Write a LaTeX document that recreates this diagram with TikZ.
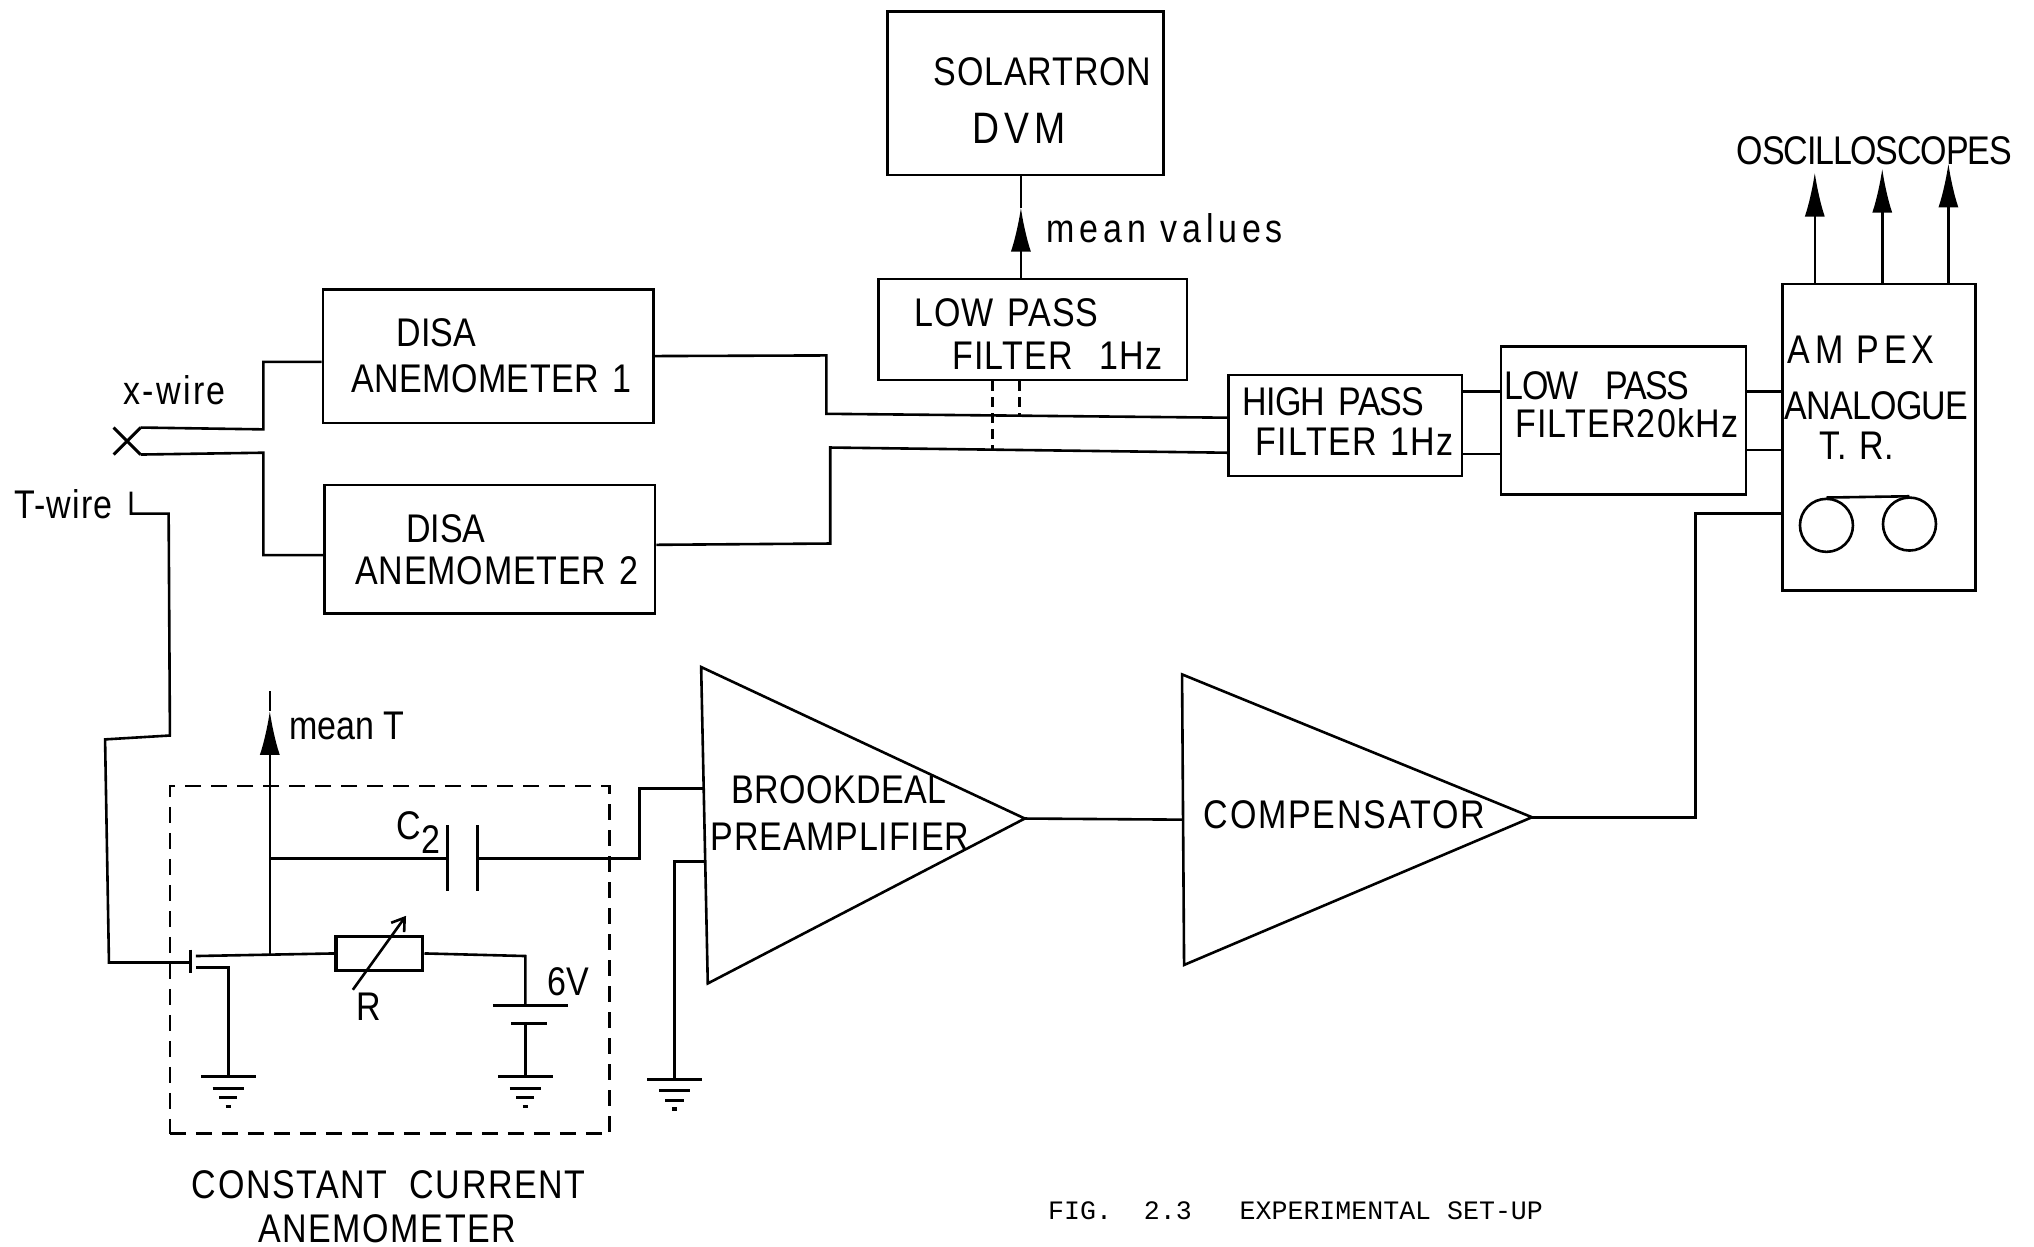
\documentclass[tikz,border=0pt]{standalone}
\usepackage{fontspec}
\setmainfont[FakeStretch=0.85]{Liberation Sans}
\newfontfamily\typedfont{Liberation Mono}
\usetikzlibrary{arrows.meta,shapes.geometric,shapes.misc}
\newdimen\unitpx
\unitpx=0.6486pt
\newcommand{\spaced}[2]{{\addfontfeatures{LetterSpace=#1}#2}}
\newcommand{\toppad}[1]{\rule{0pt}{#1}}
\newcommand{\botpad}[1]{\rule[-#1]{0pt}{0pt}}
\tikzset{
    lettering/.style={font=\fontsize{20}{23}\selectfont,inner sep=0pt},
    blockbox/.style 2 args={draw,lettering,line width=1.3pt,minimum width=#1\unitpx,minimum height=#2\unitpx,text width=#1\unitpx,align=left},
    amptriangle/.style 2 args={draw,line width=1.3pt,isosceles triangle,isosceles triangle stretches,inner sep=0pt,outer sep=0pt,minimum width=#1\unitpx,minimum height=#2\unitpx,anchor=apex},
    textnode/.style={lettering,anchor=west},
    wire/.style={line width=1.3pt},
    sigarrow/.style={line width=1.3pt,-{Latex[length=22pt,width=10pt]}},
    dashedlink/.style={line width=1.3pt,dash pattern=on 5pt off 3pt},
    reel/.style={circle,draw,line width=1.3pt,minimum size=26.5pt,inner sep=0pt},
    earth/.pic={
        \draw[line width=1.5pt] (-21,0) -- (21,0);
        \draw[line width=1.5pt] (-12,9) -- (12,9);
        \draw[line width=1.5pt] (-7,16) -- (7,16);
        \draw[line width=1.8pt] (-2,23) -- (2,23);
    }
}
\begin{document}
\begin{tikzpicture}[x=0.6486pt,y=-0.6486pt,line width=1.3pt]
\useasboundingbox (0,0) rectangle (1568,961.3);

% blocks
\node[blockbox={213}{126}] (dvm) at (790.5,72) {\toppad{21pt}\hspace*{36\unitpx}\spaced{2}{SOLARTRON}\\[6pt]\hspace*{66\unitpx}{\addfontfeatures{LetterSpace=11}\fontsize{22}{24}\selectfont DVM}};
\node[blockbox={238}{78}] (lowone) at (796,254) {\toppad{18.5pt}\hspace*{28\unitpx}\spaced{2.5}{LOW PASS}\\[-1.7pt]\hspace*{57\unitpx}\spaced{3}{FILTER\ \ 1Hz}};
\node[blockbox={255}{103}] (disaone) at (376.5,274.5) {\hspace*{57\unitpx}DISA\\\hspace*{22\unitpx}\spaced{1}{ANEMOMETER 1}};
\node[blockbox={255}{99}] (disatwo) at (377.5,423.5) {\hspace*{63\unitpx}DISA\\[-2pt]\hspace*{24\unitpx}\spaced{2}{ANEMOMETER 2}};
\node[blockbox={180}{78}] (highpass) at (1037,328) {\hspace*{11\unitpx}\spaced{-2}{HIGH PASS}\\[-3pt]\hspace*{21\unitpx}\spaced{3.5}{FILTER 1Hz}\botpad{4pt}};
\node[blockbox={189}{114}] (lowtwo) at (1251.5,324) {\hspace*{3\unitpx}\spaced{-4}{LOW \ PASS}\\[-4pt]\hspace*{11\unitpx}\spaced{3}{FILTER20kHz}\botpad{15.6pt}};
\node[blockbox={149}{236}] (ampex) at (1448.5,337) {\hspace*{4\unitpx}\spaced{12}{AM PEX}\\[5pt]\hspace*{2\unitpx}\spaced{-2}{ANALOGUE}\\[-3pt]\hspace*{29\unitpx}T. R.\botpad{39pt}};
\node[reel] (reelone) at (1408,405) {};
\node[reel] (reeltwo) at (1472,404) {};

\node[amptriangle={244}{247},rotate=1.2] (brookdeal) at (790,631) {};
\node[amptriangle={224}{269},rotate=0.4] (compensator) at (1181,630) {};
\node[draw,dash pattern=on 8pt off 5pt,minimum width=339\unitpx,minimum height=268\unitpx,inner sep=0pt] (currentbox) at (300.5,740) {};
\node[draw,line width=1.6pt,minimum width=67\unitpx,minimum height=26\unitpx,inner sep=0pt] (rheostat) at (292.5,735) {};
\node[cross out,draw,line width=1.5pt,minimum size=12pt,inner sep=0pt] (xcross) at (98,340) {};

% text
\node[textnode] (meanvalues) at (806,176) {\spaced{12}{mean values}};
\node[textnode] (oscilloscopes) at (1338,116) {\spaced{-3}{OSCILLOSCOPES}};
\node[textnode] (xwire) at (94,301) {\spaced{6}{x-wire}};
\node[textnode] (twire) at (10,389) {\spaced{3}{T-wire}};
\node[textnode] (meant) at (222,560) {mean T};
\node[textnode] (brooktext) at (563,609) {\spaced{1}{BROOKDEAL}};
\node[textnode] (preamptext) at (547,645) {\spaced{2}{PREAMPLIFIER}};
\node[textnode] (comptext) at (927,628) {\spaced{4.5}{COMPENSATOR}};
\node[textnode] (ctwo) at (305,642) {C\raisebox{-7pt}{2}};
\node[textnode] (rlabel) at (274,776) {R};
\node[textnode] (sixvolt) at (421,757) {6V};
\node[textnode] (constant) at (147,913) {\spaced{4}{CONSTANT \ CURRENT}};
\node[textnode] (anemolabel) at (198,947) {\spaced{4}{ANEMOMETER}};
\node[anchor=west,inner sep=0pt,font=\typedfont\fontsize{13.3}{15}\selectfont] (figcaption) at (807,933) {FIG.\ \ 2.3\ \ \ EXPERIMENTAL SET-UP};

% wiring
\coordinate (twirehead) at (101,379);
\coordinate (fetgate) at (147,742);
\coordinate (fetdrain) at (151,737);
\coordinate (fetsource) at (151,746);
\coordinate (dvmtip) at (787,160);
\coordinate (meantip) at (208,548);
\coordinate (platea) at (345,662);
\coordinate (plateb) at (368,662);
\coordinate (cellplus) at (405,775);
\coordinate (cellminus) at (405,789);
\coordinate (earthone) at (176,830);
\coordinate (earthtwo) at (405,830);
\coordinate (earththree) at (520,832);

\draw[wire] (xcross.north east) -- (203,331) -- (203,279) -- (disaone.west |- 0,279);
\draw[wire] (xcross.south east) -- (203,349) -- (203,428) -- (disatwo.west |- 0,428);
\draw[wire] (twirehead) -- (101,396) -- (130,396) -- (131,567) -- (81,570) -- (84,742) -- (fetgate);
\draw[wire] (147,732) -- (147,750);
\draw[wire] (fetdrain) -- (rheostat.west);
\draw[wire] (fetsource) -- (176,746) -- (earthone);
\draw[sigarrow] (208,737) -- (meantip);
\draw[wire] (meantip) -- (208,533);
\draw[wire] (208,662) -- (platea);
\draw[wire,line width=1.6pt] (345,636) -- (345,687);
\draw[wire,line width=1.6pt] (368,636) -- (368,687);
\draw[wire] (plateb) -- (493,662) -- (493,608) -- (brookdeal.lower side |- 0,608);
\draw[wire] (rheostat.east) -- (405,737) -- (cellplus);
\draw[wire,-{Straight Barb[length=6pt,width=8pt]}] (272,763) -- (313,706);
\draw[wire,line width=1.6pt] (380,775) -- (438,775);
\draw[wire,line width=1.6pt] (394,789) -- (422,789);
\draw[wire] (cellminus) -- (earthtwo);
\draw[wire] (brookdeal.lower side |- 0,664) -- (520,664) -- (earththree);
\draw[wire] (brookdeal.apex) -- (compensator.lower side);
\draw[wire] (compensator.apex) -- (1307,630) -- (1307,396) -- (ampex.west |- 0,396);
\draw[wire] (disaone.east) -- (637,274) -- (637,319) -- (highpass.west |- 0,322);
\draw[wire] (disatwo.east |- 0,420) -- (640,419) -- (640,345) -- (highpass.west |- 0,349);
\draw[dashedlink] (lowone.south -| 765,0) -- (765,347);
\draw[dashedlink] (lowone.south -| 786,0) -- (786,320);
\draw[sigarrow] (lowone.north -| 787,0) -- (dvmtip);
\draw[wire] (dvmtip) -- (dvm.south -| 787,0);
\draw[wire] (highpass.east |- 0,302) -- (lowtwo.west |- 0,302);
\draw[wire] (highpass.east |- 0,350) -- (lowtwo.west |- 0,350);
\draw[wire] (lowtwo.east |- 0,302) -- (ampex.west |- 0,302);
\draw[wire] (lowtwo.east |- 0,347) -- (ampex.west |- 0,347);
\draw[sigarrow] (ampex.north -| 1399,0) -- (1399,133);
\draw[sigarrow] (ampex.north -| 1451,0) -- (1451,130);
\draw[sigarrow] (ampex.north -| 1502,0) -- (1502,126);
\draw[wire] (reelone.north) -- (reeltwo.north);

\pic at (earthone) {earth};
\pic at (earthtwo) {earth};
\pic at (earththree) {earth};
\end{tikzpicture}
\end{document}
